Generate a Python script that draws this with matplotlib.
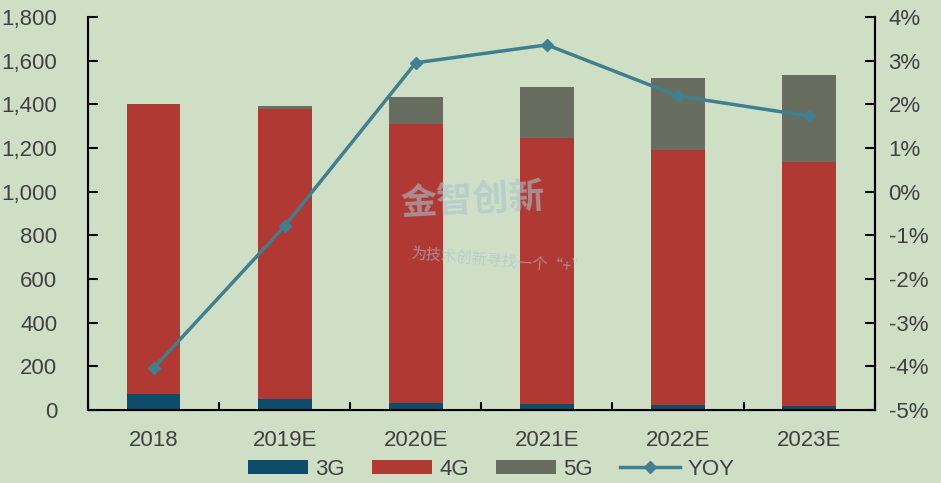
import matplotlib
matplotlib.use("Agg")
import matplotlib.pyplot as plt
from matplotlib.ticker import FuncFormatter, FixedLocator
import numpy as np

plt.rcParams['font.family'] = ['Liberation Sans', 'Noto Sans CJK SC', 'DejaVu Sans']

# data
years = ['2018', '2019E', '2020E', '2021E', '2022E', '2023E']
g3 = [75, 50, 33, 27, 24, 18]
g4 = [1325, 1330, 1277, 1219, 1167, 1118]
g5 = [0, 12, 124, 233, 330, 398]
yoy = [-4.04, -0.79, 2.95, 3.36, 2.19, 1.73]

bg = '#cfdfc6'
c3 = '#0d4c6a'
c4 = '#b03a33'
c5 = '#676e60'
cl = '#3f7f8f'
txt = '#404040'

fig = plt.figure(figsize=(9.41, 4.83), dpi=100, facecolor=bg)
ax = fig.add_axes([0.0935, 0.151, 0.836, 0.814])
ax.set_facecolor(bg)

x = np.arange(len(years))
w = 0.41
b3 = ax.bar(x, g3, w, color=c3, label='3G')
b4 = ax.bar(x, g4, w, bottom=g3, color=c4, label='4G')
bot5 = np.array(g3) + np.array(g4)
b5 = ax.bar(x, g5, w, bottom=bot5, color=c5, label='5G')

ax.set_xlim(-0.5, len(years) - 0.5)
ax.set_ylim(0, 1800)
ax.set_yticks(np.arange(0, 1801, 200))
ax.yaxis.set_major_formatter(FuncFormatter(lambda v, p: f'{int(v):,}'))
ax.set_xticks(x)
ax.set_xticklabels(years)
ax.xaxis.set_minor_locator(FixedLocator(np.arange(-0.5, len(years), 1.0)))
ax.tick_params(axis='x', which='major', length=0, pad=14, labelsize=16, labelcolor=txt)
ax.tick_params(axis='x', which='minor', direction='in', length=6, width=1.5)
ax.tick_params(axis='y', direction='in', length=7, width=1.5, labelsize=16, labelcolor=txt, pad=22)
ax.spines['top'].set_visible(False)
for s in ['left', 'bottom', 'right']:
    ax.spines[s].set_linewidth(1.5)

ax2 = ax.twinx()
ln, = ax2.plot(x, yoy, color=cl, lw=2.5, marker='D', ms=6, label='YOY')
ax2.set_ylim(-5, 4)
ax2.set_yticks(np.arange(-5, 5, 1))
ax2.yaxis.set_major_formatter(FuncFormatter(lambda v, p: f'{int(v)}%'))
ax2.tick_params(axis='y', direction='in', length=7, width=1.5, labelsize=16, labelcolor=txt, pad=10)
ax2.spines['top'].set_visible(False)
ax2.spines['right'].set_linewidth(1.5)

# faint watermark
fig.text(0.425, 0.555, '金智创新', fontsize=26, color='#a9c3cf', alpha=0.6,
         family=['Noto Sans CJK SC'], fontweight='bold', rotation=3)
fig.text(0.436, 0.435, '为技术创新寻找一个“+”', fontsize=11, color='#a9c3cf', alpha=0.6,
         family=['Noto Sans CJK SC'], rotation=-5)

fig.legend([b3, b4, b5, ln], ['3G', '4G', '5G', 'YOY'], loc='lower center',
           bbox_to_anchor=(0.522, -0.035), ncol=4, frameon=False, fontsize=16,
           handlelength=2.7, handleheight=0.6, columnspacing=1.25, handletextpad=0.3,
           labelcolor=txt)

fig.savefig('out.png', dpi=100, facecolor=bg)
